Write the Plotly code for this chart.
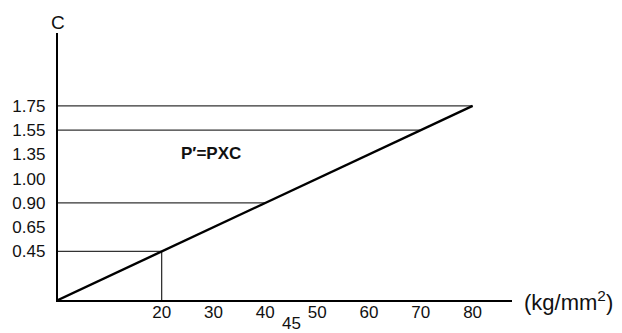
import plotly.graph_objects as go

# C values shown on the vertical scale (evenly spaced, not proportional)
c_labels = ["0.45", "0.65", "0.90", "1.00", "1.35", "1.55", "1.75"]
# strength ticks on the horizontal scale (kg/mm^2)
strength_ticks = [20, 30, 40, 50, 60, 70, 80]
extra_tick = 45

# P' = P x C line: starts at origin, ends at 80 kg/mm^2 / C = 1.75
line_strength = [0, 80]
line_c = [None, "1.75"]

# read-off guides (strength, C)
guide_strength = [20, 40, 70, 80]
guide_c = ["0.45", "0.90", "1.55", "1.75"]

# vertical scale rank: origin is 0, first label sits two steps up
rank = {lab: i + 2 for i, lab in enumerate(c_labels)}
rank[None] = 0

INK = "#111111"
FONT = "Liberation Sans, Arial, sans-serif"

fig = go.Figure()

# horizontal guides from axis to line
for s, c in zip(guide_strength, guide_c):
    fig.add_trace(go.Scatter(
        x=[0, s], y=[rank[c], rank[c]],
        mode="lines", line=dict(color="#333333", width=1.3),
        showlegend=False, hoverinfo="skip"
    ))

# vertical drop at 20
fig.add_trace(go.Scatter(
    x=[guide_strength[0], guide_strength[0]], y=[0, rank[guide_c[0]]],
    mode="lines", line=dict(color="#333333", width=1.3),
    showlegend=False, hoverinfo="skip"
))

# main line
fig.add_trace(go.Scatter(
    x=line_strength, y=[rank[c] for c in line_c],
    mode="lines", line=dict(color="black", width=2.4),
    showlegend=False, hoverinfo="skip"
))

fig.add_annotation(x=0, y=11, xref="x", yref="y", text="C", showarrow=False,
                   yanchor="middle", yshift=11, font=dict(size=19, color=INK, family=FONT))
fig.add_annotation(x=87.6, y=0, xref="x", yref="y", text="(kg/mm<sup>2</sup>)",
                   showarrow=False, xanchor="left", xshift=10, yshift=-1,
                   font=dict(size=22, color=INK, family=FONT))
fig.add_annotation(x=extra_tick, y=0, xref="x", yref="y", text=str(extra_tick),
                   showarrow=False, yanchor="middle", yshift=-23,
                   font=dict(size=17, color=INK, family=FONT))
fig.add_annotation(x=29.6, y=6.02, xref="x", yref="y", text="<b>P′=PXC</b>",
                   showarrow=False, font=dict(size=17, color=INK, family=FONT))

fig.update_layout(
    width=614, height=325,
    margin=dict(l=50, r=110, t=25, b=33),
    paper_bgcolor="white", plot_bgcolor="white",
    font=dict(family=FONT, color=INK, size=17),
    xaxis=dict(range=[0, 87.6], tickvals=strength_ticks,
               ticktext=[str(v) for v in strength_ticks],
               showgrid=False, zeroline=False, showline=True,
               linecolor="black", linewidth=2.4, ticks="",
               automargin=False,
               ticklabelstandoff=-5, tickfont=dict(size=17)),
    yaxis=dict(range=[0, 11], tickvals=[rank[c] for c in c_labels],
               ticktext=c_labels, showgrid=False, zeroline=False,
               showline=True, linecolor="black", linewidth=2.4, ticks="",
               automargin=False,
               ticklabelstandoff=7, tickfont=dict(size=17)),
)

fig.write_html("out.html")
